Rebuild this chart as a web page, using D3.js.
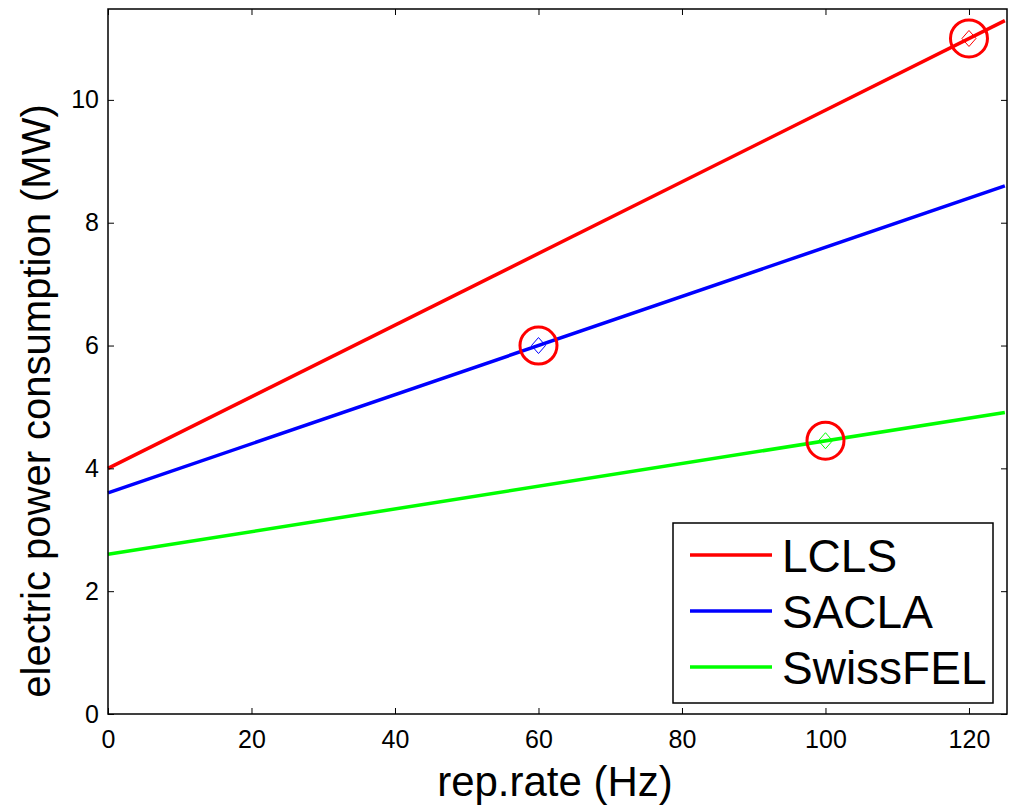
<!DOCTYPE html>
<html>
<head>
<meta charset="utf-8">
<script src="https://d3js.org/d3.v7.min.js"></script>
<style>
  body { margin: 0; background: #fff; }
  text { font-family: "Liberation Sans", Arial, sans-serif; }
</style>
</head>
<body>
<svg id="chart" width="1011" height="806"></svg>
<script>
// series: [rep.rate, power]
const series = ["LCLS", "SACLA", "SwissFEL"];
const colors = ["#ff0000", "#0000ff", "#00ff00"];
const lcls = [[0, 4.0], [125, 11.29]];
const sacla = [[0, 3.6], [125, 8.6]];
const swissfel = [[0, 2.6], [125, 4.91]];
// operating points (marked with diamonds and red circles)
const opX = [120, 60, 100];
const opY = [11.0, 6.0, 4.45];
const xTicks = [0, 20, 40, 60, 80, 100, 120];
const yTicks = [0, 2, 4, 6, 8, 10];

let svg = d3.select("#chart");
let margin = { top: 9, right: 4, bottom: 92, left: 108 };
let width = 1011 - margin.left - margin.right;
let height = 806 - margin.top - margin.bottom;

let x = d3.scaleLinear().domain([0, 125.3]).range([0, width]);
let y = d3.scaleLinear().domain([0, 11.48]).range([height, 0]);

let g = svg.append("g")
	.attr("transform", "translate(" + margin.left + "," + margin.top + ")");

// lines
let line = d3.line().x(d => x(d[0])).y(d => y(d[1]));
[lcls, sacla, swissfel].forEach(function (d, i) {
	g.append("path")
		.datum(d)
		.attr("d", line)
		.attr("fill", "none")
		.attr("stroke", colors[i])
		.attr("stroke-width", 3.5);
});

// markers
opX.forEach(function (v, i) {
	let cx = x(v), cy = y(opY[i]);
	g.append("path")
		.attr("d", "M" + cx + "," + (cy - 8) + "L" + (cx + 7) + "," + cy + "L" + cx + "," + (cy + 8) + "L" + (cx - 7) + "," + cy + "Z")
		.attr("fill", "none")
		.attr("stroke", colors[i])
		.attr("stroke-width", 1);
	g.append("circle")
		.attr("cx", cx).attr("cy", cy).attr("r", 18.5)
		.attr("fill", "none")
		.attr("stroke", "#ff0000")
		.attr("stroke-width", 3);
});

// axes (inner ticks, MATLAB style)
let fmt = d3.format("d");
g.append("g")
	.attr("transform", "translate(0," + height + ")")
	.call(d3.axisBottom(x).tickValues(xTicks).tickSize(-6).tickPadding(16).tickFormat(fmt))
	.call(a => a.select(".domain").remove());
g.append("g")
	.call(d3.axisTop(x).tickValues(xTicks).tickSize(-6).tickFormat(""))
	.call(a => a.select(".domain").remove());
g.append("g")
	.call(d3.axisLeft(y).tickValues(yTicks).tickSize(-6).tickPadding(9).tickFormat(fmt))
	.call(a => a.select(".domain").remove());
g.append("g")
	.attr("transform", "translate(" + width + ",0)")
	.call(d3.axisRight(y).tickValues(yTicks).tickSize(-6).tickFormat(""))
	.call(a => a.select(".domain").remove());

g.selectAll(".tick text").attr("font-size", 25).attr("fill", "#000")
	.attr("font-family", "Liberation Sans, Arial, sans-serif");
g.selectAll(".tick line").attr("stroke", "#000");

g.append("rect")
	.attr("width", width).attr("height", height)
	.attr("fill", "none").attr("stroke", "#000").attr("stroke-width", 1.5);

// axis labels
svg.append("text")
	.attr("x", 555)
	.attr("y", 796)
	.attr("text-anchor", "middle")
	.attr("font-size", 42)
	.text("rep.rate (Hz)");
svg.append("text")
	.attr("transform", "translate(50,401) rotate(-90)")
	.attr("text-anchor", "middle")
	.attr("font-size", 40)
	.text("electric power consumption (MW)");

// legend
let lg = svg.append("g").attr("transform", "translate(673,523)");
lg.append("rect")
	.attr("width", 320).attr("height", 180)
	.attr("fill", "#fff").attr("stroke", "#000").attr("stroke-width", 1.5);
series.forEach(function (s, i) {
	let ly = 32 + i * 56;
	lg.append("line")
		.attr("x1", 17).attr("x2", 99).attr("y1", ly).attr("y2", ly)
		.attr("stroke", colors[i]).attr("stroke-width", 3.5);
	lg.append("text")
		.attr("x", 109).attr("y", ly + 17)
		.attr("font-size", 46)
		.text(s);
});
</script>
</body>
</html>
